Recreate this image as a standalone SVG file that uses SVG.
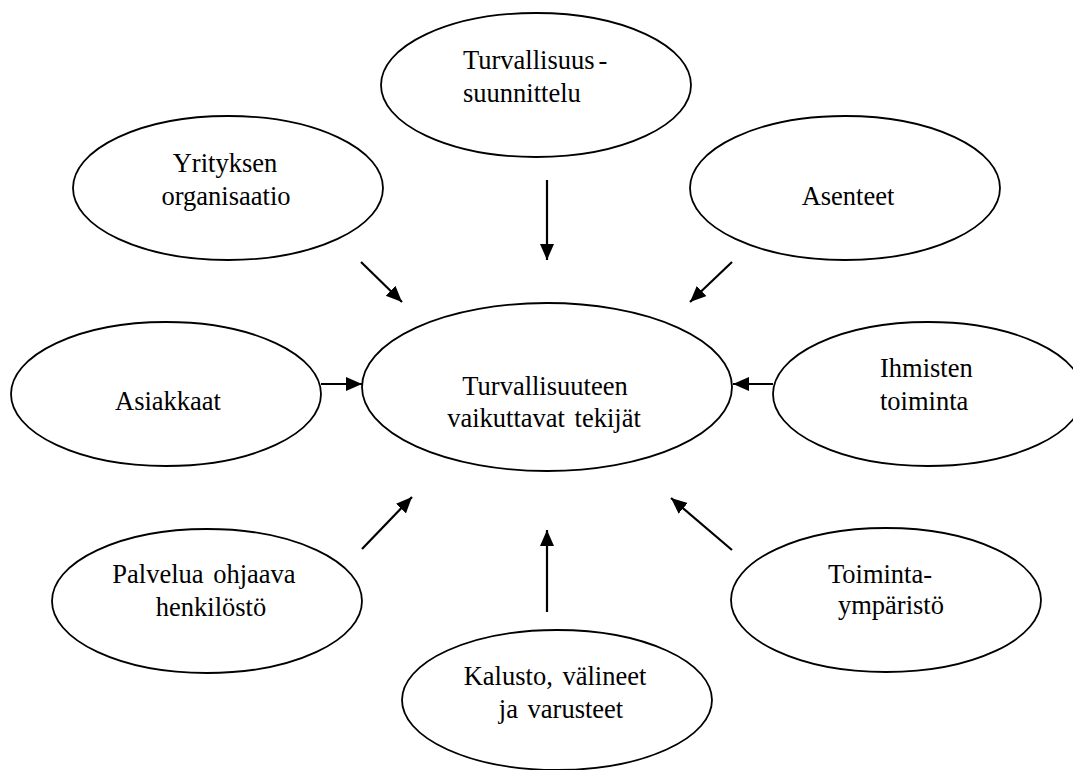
<svg xmlns="http://www.w3.org/2000/svg" width="1073" height="770" viewBox="0 0 1073 770">
<style>
.node ellipse{fill:#fff;stroke:#000;stroke-width:1.8}
.node text{font-family:"Liberation Serif",Tinos,"Times New Roman",serif;font-size:26.5px;fill:#000;text-anchor:middle;word-spacing:3px}
.edges line{stroke:#000;stroke-width:2.2}
</style>
<defs>
<marker id="arr" markerUnits="userSpaceOnUse" markerWidth="18" markerHeight="16" refX="16" refY="7" orient="auto">
<path d="M0,0 L16,7 L0,14 z" fill="#000"/>
</marker>
</defs>
<rect width="1073" height="770" fill="#fff"/>
<g id="n-suunnittelu" class="node">
<ellipse cx="536" cy="85" rx="155" ry="72"/>
<text x="463" y="69" style="text-anchor:start">Turvallisuus<tspan dx="4">-</tspan></text>
<text x="463" y="102" style="text-anchor:start">suunnittelu</text>
</g>
<g id="n-organisaatio" class="node">
<ellipse cx="228" cy="188" rx="155" ry="72"/>
<text x="225" y="172">Yrityksen</text>
<text x="226" y="205">organisaatio</text>
</g>
<g id="n-asenteet" class="node">
<ellipse cx="845" cy="188" rx="155" ry="72"/>
<text x="848" y="205">Asenteet</text>
</g>
<g id="n-asiakkaat" class="node">
<ellipse cx="166" cy="394" rx="155" ry="72"/>
<text x="168" y="410">Asiakkaat</text>
</g>
<g id="n-center" class="node">
<ellipse cx="547" cy="387" rx="185" ry="84"/>
<text x="545" y="395">Turvallisuuteen</text>
<text x="544" y="427">vaikuttavat tekijät</text>
</g>
<g id="n-ihmisten" class="node">
<ellipse cx="928" cy="394" rx="155" ry="72"/>
<text x="880" y="377" style="text-anchor:start">Ihmisten</text>
<text x="880" y="410" style="text-anchor:start">toiminta</text>
</g>
<g id="n-palvelua" class="node">
<ellipse cx="207" cy="601" rx="155" ry="72"/>
<text x="204" y="583">Palvelua ohjaava</text>
<text x="211" y="616">henkilöstö</text>
</g>
<g id="n-toiminta" class="node">
<ellipse cx="886" cy="600" rx="155" ry="72"/>
<text x="880" y="583">Toiminta-</text>
<text x="891" y="614">ympäristö</text>
</g>
<g id="n-kalusto" class="node">
<ellipse cx="557" cy="700" rx="155" ry="70"/>
<text x="555" y="685">Kalusto, välineet</text>
<text x="561" y="718">ja varusteet</text>
</g>
<g id="edges" class="edges">
<line x1="547" y1="180" x2="547" y2="260" marker-end="url(#arr)"/>
<line x1="361" y1="262" x2="402" y2="302" marker-end="url(#arr)"/>
<line x1="732" y1="262" x2="690" y2="302" marker-end="url(#arr)"/>
<line x1="321" y1="384" x2="362" y2="384" marker-end="url(#arr)"/>
<line x1="773" y1="384" x2="733" y2="384" marker-end="url(#arr)"/>
<line x1="362" y1="549" x2="412" y2="497" marker-end="url(#arr)"/>
<line x1="732" y1="550" x2="671" y2="498" marker-end="url(#arr)"/>
<line x1="547" y1="612" x2="547" y2="530" marker-end="url(#arr)"/>
</g>
</svg>
